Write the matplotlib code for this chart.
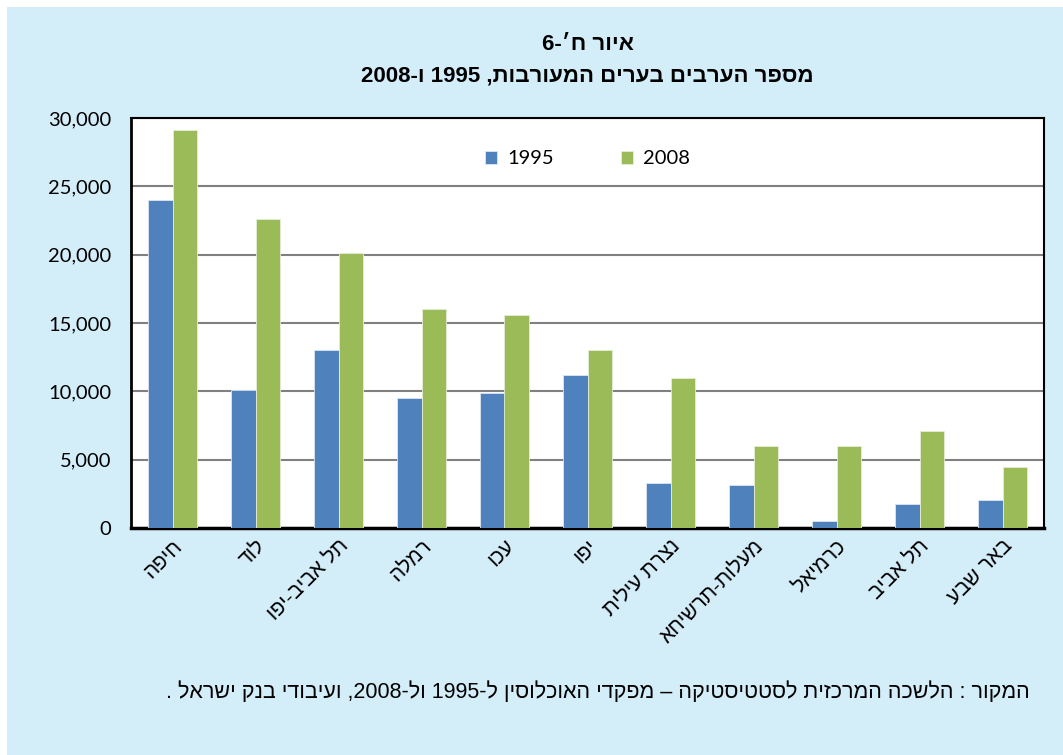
import re
import matplotlib
matplotlib.use("Agg")
import matplotlib.pyplot as plt
import matplotlib.patches as mpatches
import numpy as np
from matplotlib.ticker import FuncFormatter

# Hebrew text is stored in logical order; matplotlib has no bidi, so flip for display
def rtl(s):
    r = s[::-1]
    return re.sub(r"\d[\d,]*\d|\d", lambda m: m.group(0)[::-1], r)

cities = ["חיפה", "לוד", "תל אביב-יפו", "רמלה", "עכו", "יפו", "נצרת עילית",
          "מעלות-תרשיחא", "כרמיאל", "תל אביב", "באר שבע"]
v1995 = [24000, 10100, 13000, 9500, 9900, 11200, 3300, 3150, 500, 1750, 2050]
v2008 = [29100, 22600, 20100, 16000, 15600, 13000, 11000, 6000, 6000, 7100, 4450]
series_names = ["1995", "2008"]

title1 = "איור ח׳-6"
title2 = "מספר הערבים בערים המעורבות, 1995 ו-2008"
source = "המקור : הלשכה המרכזית לסטטיסטיקה – מפקדי האוכלוסין ל-1995 ול-2008, ועיבודי בנק ישראל ."

BG = "#D3EDF9"
BLUE = "#4F81BD"
GREEN = "#9BBB59"
HEB = ["Liberation Sans", "DejaVu Sans"]

fig = plt.figure(figsize=(10.63, 7.55), dpi=100)
fig.patch.set_facecolor("white")
fig.add_artist(mpatches.Rectangle((7 / 1063, 0), 1, 1 - 7 / 755,
                                  transform=fig.transFigure, facecolor=BG,
                                  edgecolor="none", zorder=-10))

ax = fig.add_axes([131 / 1063, 1 - 528 / 755, (1044 - 131) / 1063, (528 - 118) / 755])
ax.set_facecolor("white")

x = np.arange(len(cities))
w = 0.29
ax.bar(x - w / 2, v1995, w, color=BLUE, edgecolor="#dce6f2", linewidth=0.6,
       label=series_names[0], zorder=3)
ax.bar(x + w / 2, v2008, w, color=GREEN, edgecolor="#e4edd5", linewidth=0.6,
       label=series_names[1], zorder=3)

ax.set_xlim(-0.5, len(cities) - 0.5)
ax.set_ylim(0, 30000)
ax.set_yticks(range(0, 30001, 5000))
ax.yaxis.set_major_formatter(FuncFormatter(lambda v, p: f"{int(v):,}"))
ax.grid(axis="y", color="#808080", linewidth=1.5, zorder=1)
ax.tick_params(axis="y", length=0, pad=14, labelsize=14.5)
ax.tick_params(axis="x", length=0, pad=6)
for lab in ax.get_yticklabels():
    lab.set_family("Lato")
for sp in ax.spines.values():
    sp.set_color("black")
    sp.set_linewidth(1.5)
ax.spines["bottom"].set_linewidth(2.5)
ax.spines["left"].set_linewidth(2.0)

ax.set_xticks(x)
ax.set_xticklabels([rtl(c) for c in cities], rotation=45, ha="right",
                   rotation_mode="anchor", fontsize=15, family=HEB)

ax.legend(loc="upper center", bbox_to_anchor=(0.5, 0.965), ncol=2,
          frameon=False, handlelength=0.6, handleheight=0.6,
          columnspacing=3.3, handletextpad=0.5,
          prop={"family": "Lato", "size": 14.5})

# titles centred over the plot area
cx = (131 + 1044) / 2 / 1063
fig.text(cx, 1 - 44 / 755, rtl(title1), ha="center", va="center",
         fontsize=16, fontweight="bold", family=HEB)
fig.text(cx, 1 - 76 / 755, rtl(title2), ha="center", va="center",
         fontsize=16, fontweight="bold", family=HEB)
fig.text(1030 / 1063, 1 - 692 / 755, rtl(source), ha="right", va="center",
         fontsize=15.5, family=HEB)

fig.savefig("out.png", dpi=100, facecolor=fig.get_facecolor())
